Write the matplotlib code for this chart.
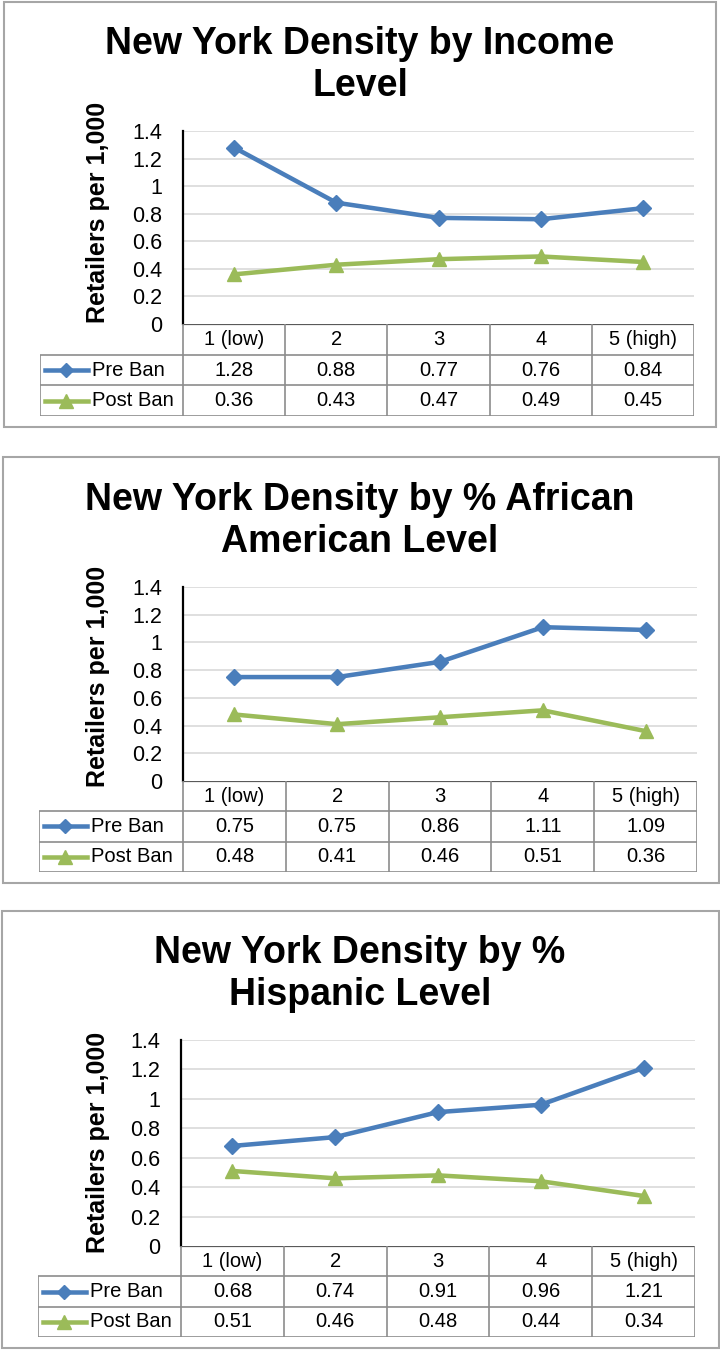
import matplotlib
matplotlib.use("Agg")
import matplotlib.pyplot as plt
from matplotlib.patches import Rectangle

plt.rcParams['font.family'] = ['Liberation Sans', 'DejaVu Sans']

# data
levels = ["1 (low)", "2", "3", "4", "5 (high)"]
series_names = ["Pre Ban", "Post Ban"]
titles = ["New York Density by Income\nLevel",
          "New York Density by % African\nAmerican Level",
          "New York Density by %\nHispanic Level"]
income_pre = [1.28, 0.88, 0.77, 0.76, 0.84]
income_post = [0.36, 0.43, 0.47, 0.49, 0.45]
afam_pre = [0.75, 0.75, 0.86, 1.11, 1.09]
afam_post = [0.48, 0.41, 0.46, 0.51, 0.36]
hisp_pre = [0.68, 0.74, 0.91, 0.96, 1.21]
hisp_post = [0.51, 0.46, 0.48, 0.44, 0.34]
yticks = [0, 0.2, 0.4, 0.6, 0.8, 1.0, 1.2, 1.4]
ytick_labels = ["0", "0.2", "0.4", "0.6", "0.8", "1", "1.2", "1.4"]

BLUE = "#4A7EBB"
GREEN = "#9BBB59"
GRID = "#D9D9D9"
TAB = "#8C8C8C"

W, H = 720, 1351
fig = plt.figure(figsize=(W / 100, H / 100), dpi=100)


def rect(x0, y0, x1, y1):
    # pixel box (top-left origin) -> figure fraction
    return [x0 / W, 1 - y1 / H, (x1 - x0) / W, (y1 - y0) / H]


# layout of each panel in pixels
panels = [
    dict(plot=(183, 131, 694, 324), table=(40, 324, 694, 416), border=(4, 2, 716, 427),
         title_y=65, ylab_y=212),
    dict(plot=(183, 587, 697, 781), table=(39, 781, 697, 872), border=(3, 457, 719, 883),
         title_y=521, ylab_y=676),
    dict(plot=(181, 1040, 695, 1246), table=(38, 1246, 695, 1337), border=(2, 911, 719, 1348),
         title_y=974, ylab_y=1142),
]
data = [(income_pre, income_post), (afam_pre, afam_post), (hisp_pre, hisp_post)]

for p, (pre, post), title in zip(panels, data, titles):
    bx0, by0, bx1, by1 = p["border"]
    fig.patches.append(Rectangle((bx0 / W, 1 - by1 / H), (bx1 - bx0) / W, (by1 - by0) / H,
                                 transform=fig.transFigure, fill=False,
                                 edgecolor="#A6A6A6", linewidth=1.5))
    fig.text(0.5, 1 - p["title_y"] / H, title, ha="center", va="center",
             fontsize=27, fontweight="bold", linespacing=1.23)

    px0, py0, px1, py1 = p["plot"]
    ax = fig.add_axes(rect(*p["plot"]))
    x = range(len(levels))
    ax.plot(x, pre, color=BLUE, lw=3.25, marker="D", ms=8, zorder=3)
    ax.plot(x, post, color=GREEN, lw=3.25, marker="^", ms=10.5, zorder=3)
    ax.set_xlim(-0.5, 4.5)
    ax.set_ylim(0, 1.4)
    ax.set_yticks(yticks)
    ax.set_yticklabels(ytick_labels)
    ax.set_xticks([])
    ax.tick_params(axis="y", length=0, pad=15, labelsize=15.5)
    for t in yticks[1:]:
        ax.axhline(t, color=GRID, lw=1.2, zorder=1)
    for s in ["top", "right", "bottom"]:
        ax.spines[s].set_visible(False)
    ax.spines["left"].set_linewidth(1.6)
    ax.spines["left"].set_color("black")
    ax.set_ylabel("Retailers per 1,000", fontsize=18, fontweight="bold", va="center")
    ax.yaxis.set_label_coords((98 - px0) / (px1 - px0), (py1 - p["ylab_y"]) / (py1 - py0))

    # data table under the plot
    tx0, ty0, tx1, ty1 = p["table"]
    colw = (px1 - px0) / 5
    left = -0.5 - (px0 - tx0) / colw
    axt = fig.add_axes(rect(*p["table"]))
    axt.set_xlim(left, 4.5)
    axt.set_ylim(3, 0)
    axt.axis("off")
    axt.hlines(0, -0.5, 4.5, color="#595959", lw=1.6)
    axt.hlines([1, 2, 3], left, 4.5, color=TAB, lw=1.2)
    axt.vlines([i - 0.5 for i in range(6)], 0, 3, color=TAB, lw=1.2)
    axt.vlines(left, 1, 3, color=TAB, lw=1.2)
    for i, lab in enumerate(levels):
        axt.text(i, 0.5, lab, ha="center", va="center", fontsize=14.5)
    k = 1 / colw
    for r, (name, vals, col, mk, ms) in enumerate(
            [(series_names[0], pre, BLUE, "D", 7.5), (series_names[1], post, GREEN, "^", 10)]):
        y = r + 1.5
        axt.plot([left + 5 * k, left + 48 * k], [y, y], color=col, lw=3.25, clip_on=False)
        axt.plot([left + 26 * k], [y], color=col, marker=mk, ms=ms, clip_on=False)
        axt.text(left + 52 * k, y, name, ha="left", va="center", fontsize=14.5)
        for i, v in enumerate(vals):
            axt.text(i, y, f"{v:.2f}", ha="center", va="center", fontsize=14.5)

fig.savefig("out.png", dpi=100)
